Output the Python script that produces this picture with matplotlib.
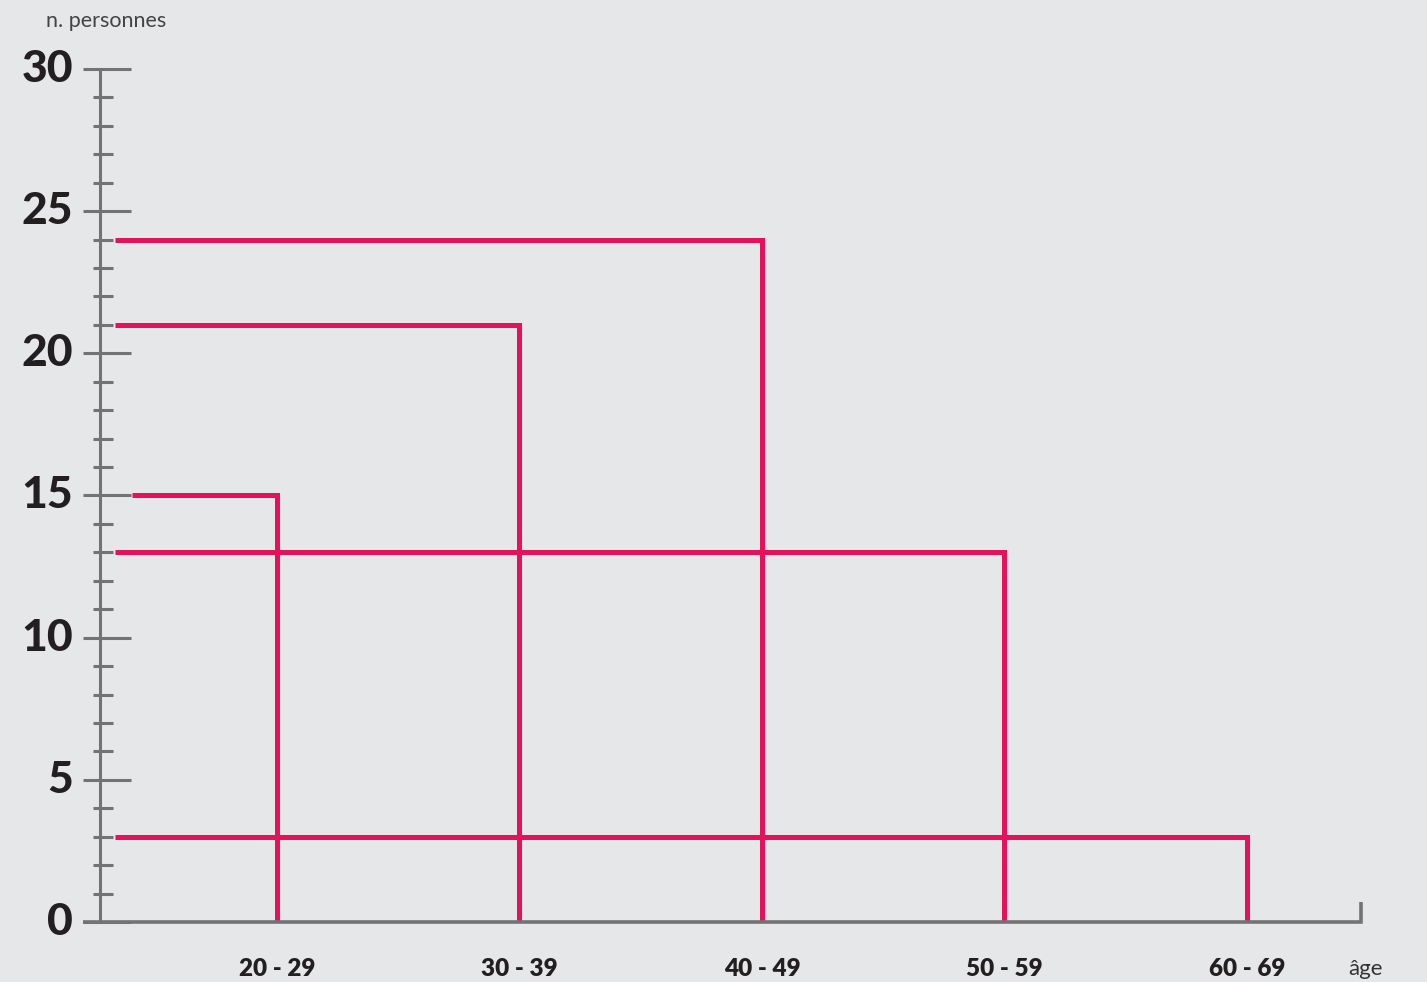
import numpy as np
import matplotlib
matplotlib.rcParams['font.family'] = ['Lato', 'DejaVu Sans']
import matplotlib.pyplot as plt

categories = ['20 - 29', '30 - 39', '40 - 49', '50 - 59', '60 - 69']
counts = [15, 21, 24, 13, 3]
yticks_major = [0, 5, 10, 15, 20, 25, 30]
yticks_minor = list(range(0, 31))

bg = '#e6e7e9'
red = '#e5115a'
grey = '#737373'

W, H = 1427, 982
fig = plt.figure(figsize=(W / 100, H / 100), dpi=100, facecolor=bg)
ax = fig.add_axes([0, 0, 1, 1])
ax.set_facecolor(bg)
ax.axis('off')

# pixel layout: category i centred at x0 + dx*i, value v at y0 - dy*v
x0, dx = 277, 242.5
y0, dy = 922, (922 - 69) / 30.
ax.set_xlim((0 - x0) / dx, (W - x0) / dx)
ax.set_ylim((y0 - H) / dy, y0 / dy)

def px(x):
    return (x - x0) / dx

# y axis and ticks
ax.plot([px(100), px(100)], [0, 30], color=grey, lw=2.2, solid_capstyle='butt', zorder=2)
for v in yticks_minor:
    if v in yticks_major:
        ax.plot([px(83), px(131)], [v, v], color=grey, lw=2.2, solid_capstyle='butt', zorder=2)
        ax.text(px(73), v, str(v), ha='right', va='center', fontsize=32,
                fontweight='black', color='#231f20')
    else:
        ax.plot([px(93), px(113)], [v, v], color=grey, lw=2.2, solid_capstyle='butt', zorder=2)

# x axis
ax.plot([px(83), px(1361), px(1361)], [0, 0, 0.7], color=grey, lw=2.6,
        solid_capstyle='butt', solid_joinstyle='miter', zorder=3)

# step lines
for i, (lab, c) in enumerate(zip(categories, counts)):
    xs = px(132) if c in yticks_major else px(115)
    ax.plot([xs, i, i], [c, c, 0.05], color=red, lw=3.6,
            solid_capstyle='butt', solid_joinstyle='miter', zorder=2)
    ax.text(i, -1.65, lab, ha='center', va='center', fontsize=17.5,
            fontweight='heavy', color='#231f20')

ax.text(px(1366), -1.65, 'âge', ha='center', va='center', fontsize=16, color='#333333')
ax.text(px(46), 31.7, 'n. personnes', ha='left', va='center', fontsize=15.5, color='#444444')

plt.savefig('out.png', dpi=100, facecolor=bg)
